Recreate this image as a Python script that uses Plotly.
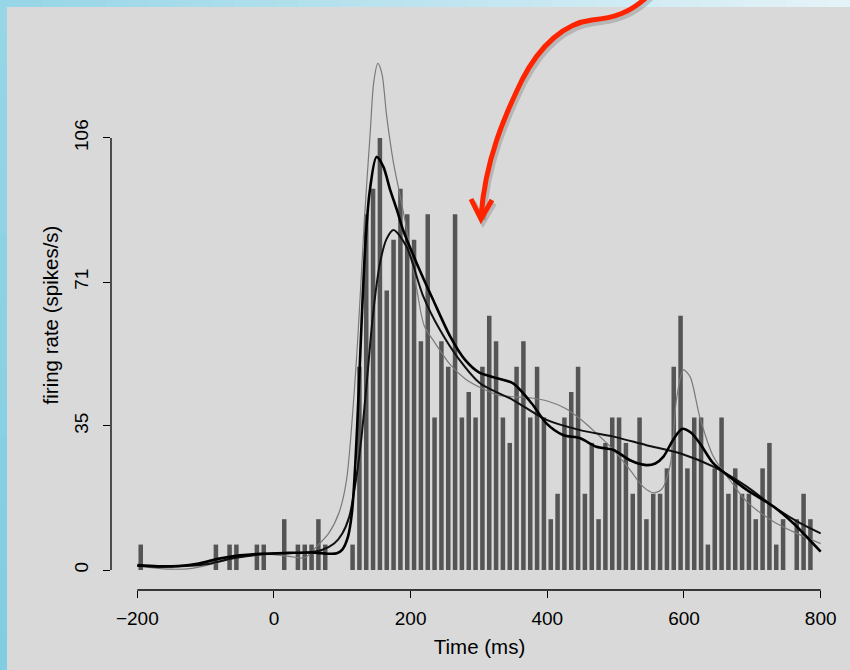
import plotly.graph_objects as go

# ---------------- data ----------------
bin_width = 10
bin_start = list(range(-200, 800, 10))
# firing rate per 10-ms bin (spikes/s)
rate = [6.25, 0, 0, 0, 0, 0, 0, 0, 0, 0,
        0, 6.25, 0, 6.25, 6.25, 0, 0, 6.25, 6.25, 0,
        0, 12.5, 0, 6.25, 6.25, 6.25, 12.5, 6.25, 0, 0,
        0, 6.25, 50, 87.5, 93.75, 106.25, 68.75, 81.25, 93.75, 87.5,
        81.25, 56.25, 87.5, 37.5, 56.25, 50, 87.5, 37.5, 43.75, 37.5,
        50, 62.5, 56.25, 37.5, 31.25, 50, 56.25, 37.5, 50, 37.5,
        12.5, 18.75, 37.5, 43.75, 50, 18.75, 31.25, 12.5, 31.25, 37.5,
        37.5, 31.25, 18.75, 37.5, 12.5, 18.75, 18.75, 25, 50, 62.5,
        25, 37.5, 37.5, 6.25, 25, 37.5, 18.75, 25, 18.75, 18.75,
        12.5, 25, 31.25, 6.25, 12.5, 0, 12.5, 18.75, 12.5, 0]

# thin grey smoother
gray_t = [-200, -180, -150, -120, -90, -60, -30, 0, 25, 45, 62, 80, 95, 106, 120, 133,
          141, 146, 152, 158, 165, 175, 184, 194, 209, 220, 235, 258, 280, 304, 328,
          353, 377, 401, 426, 450, 472, 497, 521, 540, 555, 567, 580, 589, 599, 609,
          623, 643, 672, 692, 730, 765, 800]
gray_v = [1.0, 0.6, 0.2, 0.4, 1.5, 2.8, 3.6, 3.8, 3.3, 3.0, 5.7, 9, 14, 22, 50, 88,
          108, 120, 124.6, 122, 111.5, 100, 92.5, 84, 69, 60, 56, 50.5, 47, 44.7, 43,
          42.6, 42.3, 41.5, 39.8, 36.9, 33.6, 29.5, 24.6, 20.5, 19, 19.8, 26, 42, 49.2, 47.5,
          37.7, 27.9, 21, 16.8, 12, 9, 6.5]

# thick black smoother (sharp peak, bump near 600 ms)
b_t = [-200, -170, -140, -110, -80, -50, -20, 20, 55, 80, 92, 100, 108, 114, 119, 124,
       129, 134, 140, 150, 160, 170, 180, 189, 209, 233, 258, 280, 300, 328, 350, 377,
       399, 423, 448, 472, 497, 521, 545, 558, 570, 584, 597, 610, 623, 643, 670, 692,
       731, 760, 800]
b_v = [1.2, 0.9, 1.0, 1.6, 2.8, 3.6, 4.0, 4.2, 4.3, 4.0, 4.1, 5.0, 8.0, 14, 26, 44,
       64, 81, 93, 101.6, 99.2, 93.5, 88.5, 83.6, 75.4, 66.4, 57.4, 51.6, 48.6, 47.1, 45.9, 41,
       36, 33.2, 32.4, 30.3, 29.5, 27, 25.8, 26.2, 27.9, 32, 34.7, 33.8, 31.2, 26.2, 22.5, 19.7,
       15.6, 11.5, 4.5]

# broad black smoother
s_t = [-200, -150, -100, -60, -20, 20, 50, 70, 88, 100, 110, 118, 127, 136, 145, 155,
       165, 175, 194, 218, 243, 270, 301, 350, 399, 448, 497, 545, 594, 643, 692, 731,
       770, 800]
s_v = [1.0, 0.8, 1.4, 2.9, 3.8, 4.1, 4.3, 4.9, 6.5, 9.0, 13, 20, 31, 46.5, 63, 75.4,
       81.5, 83.6, 79.5, 67.5, 59, 52, 46, 41.8, 36.9, 34.4, 32.8, 30.7, 28.7, 25.4, 20.5, 15.6,
       11.5, 9]

x_tick_vals = [-200, 0, 200, 400, 600, 800]
y_tick_vals = [0, 35.42, 70.83, 106.25]
y_tick_text = ["0", "35", "71", "106"]

# ---------------- figure ----------------
W, H = 850, 670
L, R, T, B = 111, 2, 40, 80
PW, PH = W - L - R, H - T - B
FONT = "Liberation Sans, Arial, sans-serif"


def P(px, py):
    return f"{(px - L) / PW:.5f},{(H - B - py) / PH:.5f}"


fig = go.Figure()
fig.add_trace(go.Bar(x=[s + bin_width / 2 for s in bin_start], y=rate,
                     marker=dict(color="#555555", line=dict(width=0)), hoverinfo="skip"))
fig.add_trace(go.Scatter(x=gray_t, y=gray_v, mode="lines",
                         line=dict(color="#7a7a7a", width=1.2, shape="spline", smoothing=0.8)))
fig.add_trace(go.Scatter(x=s_t, y=s_v, mode="lines",
                         line=dict(color="#111111", width=2.0, shape="spline", smoothing=0.8)))
fig.add_trace(go.Scatter(x=b_t, y=b_v, mode="lines",
                         line=dict(color="#000000", width=2.6, shape="spline", smoothing=0.8)))

shapes = []
# blue frame (top and left strips)
N = 40
c0, c1 = (150, 214, 231), (228, 243, 248)
for i in range(N):
    f = i / (N - 1)
    col = tuple(int(c0[k] + (c1[k] - c0[k]) * f) for k in range(3))
    x0 = i * W / N
    x1 = (i + 1) * W / N + 1
    shapes.append(dict(type="rect", xref="paper", yref="paper", layer="below",
                       x0=(x0 - L) / PW, x1=(x1 - L) / PW,
                       y0=(H - B - 0) / PH, y1=(H - B - 7) / PH,
                       fillcolor=f"rgb{col}", line=dict(width=0)))
d0, d1 = (150, 214, 231), (128, 205, 225)
M = 20
for i in range(M):
    f = i / (M - 1)
    col = tuple(int(d0[k] + (d1[k] - d0[k]) * f) for k in range(3))
    y0 = i * H / M
    y1 = (i + 1) * H / M + 1
    shapes.append(dict(type="rect", xref="paper", yref="paper", layer="below",
                       x0=(0 - L) / PW, x1=(7 - L) / PW,
                       y0=(H - B - y0) / PH, y1=(H - B - y1) / PH,
                       fillcolor=f"rgb{col}", line=dict(width=0)))

# axis lines spanning only the tick range (R style)
shapes.append(dict(type="line", xref="x", yref="paper", x0=-200, x1=800, y0=0, y1=0,
                   line=dict(color="black", width=1.3)))
shapes.append(dict(type="line", xref="paper", yref="y", x0=0, x1=0, y0=0, y1=106.25,
                   line=dict(color="black", width=1.3)))

# red curved arrow (decoration)
arrow_body = ("M " + P(650, -6) + " C " + P(630, 14) + " " + P(612, 18) + " " + P(592, 20)
              + " C " + P(565, 23) + " " + P(540, 45) + " " + P(522, 80)
              + " C " + P(505, 115) + " " + P(485, 160) + " " + P(481, 217))
arrow_head = "M " + P(471, 199) + " L " + P(481, 219) + " L " + P(492, 200)

shadow_body = ("M " + P(652, -3) + " C " + P(632, 17) + " " + P(614, 21) + " " + P(594, 23)
               + " C " + P(567, 26) + " " + P(542, 48) + " " + P(524, 83)
               + " C " + P(507, 118) + " " + P(487, 163) + " " + P(483, 220))
shadow_head = "M " + P(473, 202) + " L " + P(483, 222) + " L " + P(494, 203)
for pth in (shadow_body, shadow_head):
    shapes.append(dict(type="path", xref="paper", yref="paper", path=pth, layer="above",
                       line=dict(color="rgba(0,0,0,0.16)", width=6)))
for pth in (arrow_body, arrow_head):
    shapes.append(dict(type="path", xref="paper", yref="paper", path=pth, layer="above",
                       line=dict(color="#ff2400", width=5)))

fig.update_layout(
    width=W, height=H,
    margin=dict(l=L, r=R, t=T, b=B, pad=0),
    paper_bgcolor="#d9d9d9", plot_bgcolor="#d9d9d9",
    showlegend=False, bargap=0.34,
    font=dict(family=FONT, color="black"),
    shapes=shapes,
    xaxis=dict(range=[-238.5, 840.0], showgrid=False, zeroline=False, showline=False,
               ticks="outside", ticklen=7, tickwidth=1.3, tickcolor="black",
               tickvals=x_tick_vals, tickfont=dict(size=19, family=FONT, color="black"),
               ticklabelstandoff=4,
               title=dict(text="Time (ms)", font=dict(size=20.5, family=FONT, color="black"),
                          standoff=11)),
    yaxis=dict(range=[-4.92, 130.35], showgrid=False, zeroline=False, showline=False,
               ticks="outside", ticklen=7, tickwidth=1.3, tickcolor="black",
               tickvals=y_tick_vals, ticktext=y_tick_text, tickangle=-90,
               tickfont=dict(size=19, family=FONT, color="black"),
               ticklabelstandoff=7,
               title=dict(text="firing rate (spikes/s)",
                          font=dict(size=20.5, family=FONT, color="black"), standoff=7)),
)

fig.write_html("out.html")
